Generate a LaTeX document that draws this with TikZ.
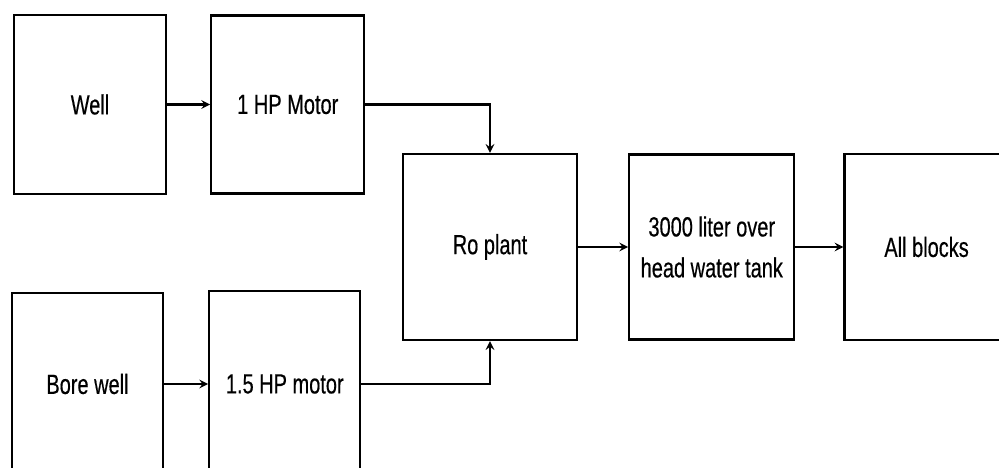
\documentclass[tikz,border=0pt]{standalone}
\usepackage{fontspec}
\setmainfont[FakeStretch=0.72,FakeBold=0.4]{Liberation Sans}
\usetikzlibrary{shapes,arrows,positioning}

\begin{document}
\begin{tikzpicture}[
    unit/.style={rectangle, draw, line width=1.3pt, align=center, inner sep=0pt,
        font=\fontsize{15.8}{23.3}\selectfont},
    arrow/.style={->, >=stealth, line width=1.2pt}
]

% Page frame
\useasboundingbox (0,0) rectangle (19.98,-9.36);
\clip (0,0) rectangle (19.98,-9.36);

% Sources
\node[unit, minimum width=3.04cm, minimum height=3.58cm] (well) at (1.80,-2.09) {Well};
\node[unit, minimum width=3.02cm, minimum height=3.64cm] (bore) at (1.75,-7.68) {Bore well};

% Motors
\node[unit, minimum width=3.06cm, minimum height=3.56cm, right=0.86cm of well] (hp1) {1 HP Motor};
\node[unit, minimum width=3.02cm, minimum height=3.72cm, right=0.88cm of bore] (hp15) {1.5 HP motor};

% Treatment and storage
\node[unit, minimum width=3.48cm, minimum height=3.72cm] (ro) at (9.80,-4.94) {Ro plant};
\node[unit, minimum width=3.30cm, minimum height=3.70cm, right=1.0cm of ro] (tank) {3000 liter over\\head water tank};
\node[unit, minimum width=3.28cm, minimum height=3.72cm, right=0.96cm of tank] (blocks) {All blocks};

% Arrows
\draw[arrow] (well) -- (hp1);
\draw[arrow] (bore) -- (hp15);
\draw[arrow] (hp1) -| (ro);
\draw[arrow] (hp15) -| (ro);
\draw[arrow] (ro) -- (tank);
\draw[arrow] (tank) -- (blocks);

\end{tikzpicture}
\end{document}
